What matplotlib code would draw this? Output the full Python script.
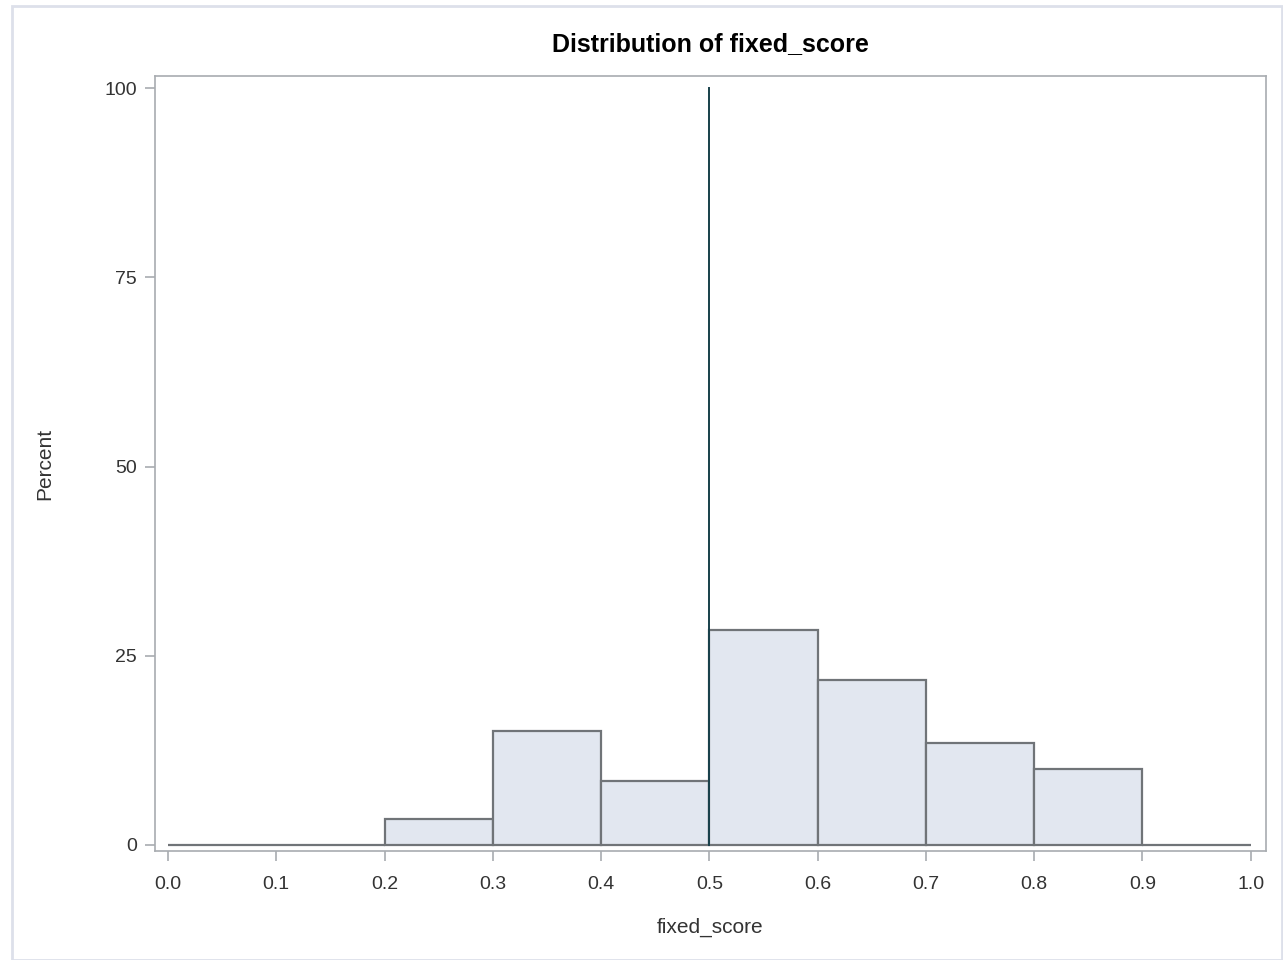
import matplotlib.pyplot as plt
from matplotlib import font_manager
from matplotlib.patches import Rectangle

bin_left = [0.0, 0.1, 0.2, 0.3, 0.4, 0.5, 0.6, 0.7, 0.8, 0.9]
percent = [0.0, 0.0, 3.4, 15.0, 8.4, 28.4, 21.8, 13.5, 10.1, 0.0]
bin_width = 0.1
ref_x = 0.5
x_ticks = [0.0, 0.1, 0.2, 0.3, 0.4, 0.5, 0.6, 0.7, 0.8, 0.9, 1.0]
y_ticks = [0, 25, 50, 75, 100]

names = {f.name for f in font_manager.fontManager.ttflist}
if 'Liberation Sans Narrow' in names:
    plt.rcParams['font.family'] = ['Liberation Sans Narrow', 'DejaVu Sans']
    narrow = True
else:
    plt.rcParams['font.family'] = ['Liberation Sans', 'DejaVu Sans']
    narrow = False

tick_fs = 16 if narrow else 14
lab_fs = 17 if narrow else 15
title_fs = 21 if narrow else 18

fig = plt.figure(figsize=(12.83, 9.6), dpi=100)
fig.patch.set_facecolor('white')
# light page border
fig.patches.append(Rectangle((0.009, 0.0), 0.99, 0.994, transform=fig.transFigure,
                             fill=False, edgecolor='#dde0ea', linewidth=2))

ax = fig.add_axes([0.1208, 0.1135, 0.8659, 0.8073])
ax.bar(bin_left, percent, width=bin_width, align='edge',
       color='#e2e7f0', edgecolor='#707478', linewidth=1.6)
ax.plot([ref_x, ref_x], [0, 100], color='#17404a', linewidth=1.4)

ax.set_xlim(-0.012, 1.014)
ax.set_ylim(-0.8, 101.6)
ax.set_xticks(x_ticks)
ax.set_xticklabels([f"{v:.1f}" for v in x_ticks])
ax.set_yticks(y_ticks)

for s in ax.spines.values():
    s.set_color('#a8acb0')
    s.set_linewidth(1.2)
ax.tick_params(direction='out', length=7, width=1.2, color='#a8acb0',
               labelsize=tick_fs, labelcolor='#333333', pad=6)
ax.tick_params(axis='x', pad=11)

ax.set_title('Distribution of fixed_score', fontsize=title_fs, fontweight='bold', pad=18)
ax.set_xlabel('fixed_score', fontsize=lab_fs, color='#333333', labelpad=18)
ax.set_ylabel('Percent', fontsize=lab_fs, color='#333333', labelpad=36)

fig.savefig('out.png', dpi=100)
